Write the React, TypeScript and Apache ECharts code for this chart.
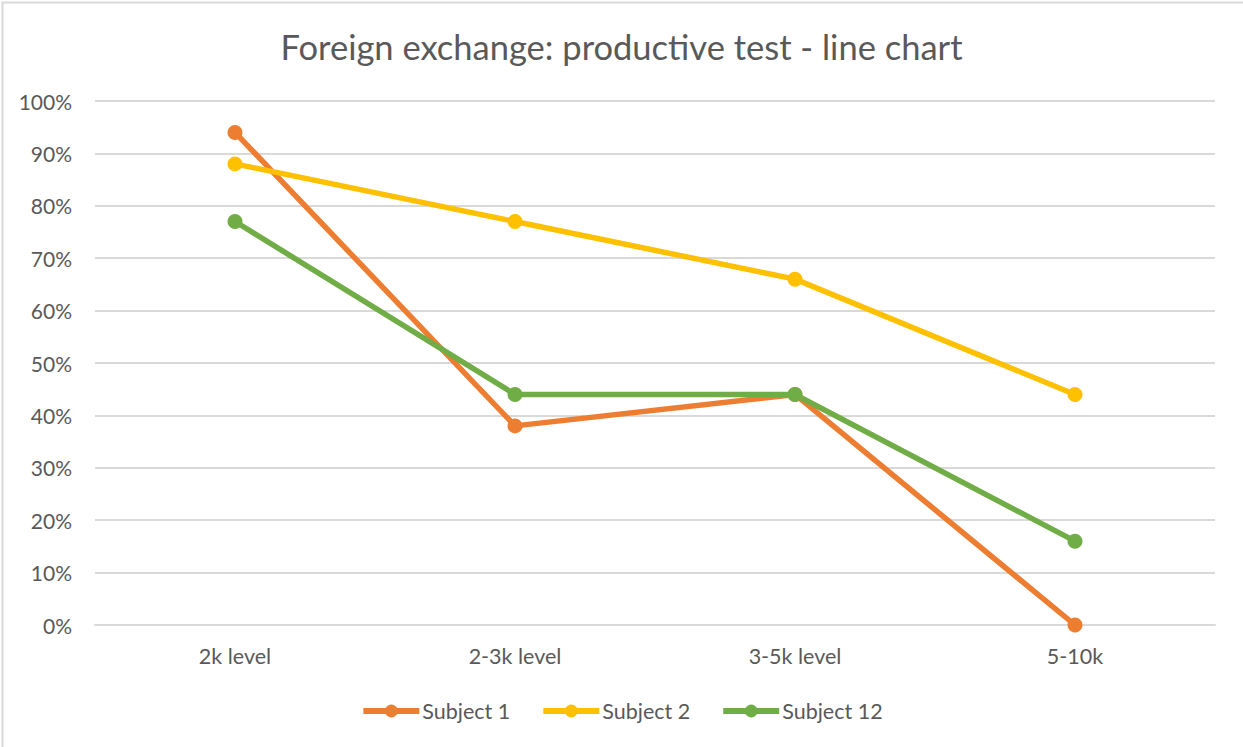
import React, { useEffect, useRef } from "react";
import * as echarts from "echarts";

const categories = ["2k level", "2-3k level", "3-5k level", "5-10k"];
const subject1 = [94, 38, 44, 0];
const subject2 = [88, 77, 66, 44];
const subject12 = [77, 44, 44, 16];
const seriesNames = ["Subject 1", "Subject 2", "Subject 12"];
const colors = ["#ED7D31", "#FFC000", "#70AD47"];

export default function App() {
  const ref = useRef<HTMLDivElement>(null);
  useEffect(() => {
    document.body.style.margin = "0";
    const chart = echarts.init(ref.current!, null, { renderer: "svg" });
    const font = "Lato, 'Noto Sans', sans-serif";
    const mk = (name: string, data: number[], color: string) => ({
      name,
      type: "line",
      data,
      symbol: "circle",
      symbolSize: 15,
      lineStyle: { width: 5.5, color },
      itemStyle: { color },
      emphasis: { disabled: true },
    });
    chart.setOption({
      animation: false,
      backgroundColor: "#ffffff",
      textStyle: { fontFamily: font },
      title: {
        text: "Foreign exchange: productive test - line chart",
        left: "center",
        top: 24,
        textStyle: { fontSize: 34.5, fontWeight: "normal", color: "#595959", fontFamily: font },
      },
      legend: {
        top: 695,
        left: "center",
        itemWidth: 56,
        itemHeight: 16,
        itemGap: 30,
        lineStyle: { width: 6 },
        textStyle: { fontSize: 21.5, color: "#595959", fontFamily: font, padding: [0, 0, 0, -2] },
        data: seriesNames,
      },
      graphic: [
        {
          type: "rect",
          shape: { x: 2.5, y: 2.5, width: 1300, height: 800 },
          style: { fill: "none", stroke: "#d9d9d9", lineWidth: 2 },
          silent: true,
        },
      ],
      grid: { left: 95, right: 28, top: 101, bottom: 122, containLabel: false },
      xAxis: {
        type: "category",
        data: categories,
        boundaryGap: true,
        axisLine: { show: true, lineStyle: { color: "#d9d9d9", width: 2 } },
        axisTick: { show: false },
        axisLabel: { fontSize: 21.5, color: "#595959", margin: 20, fontFamily: font },
      },
      yAxis: {
        type: "value",
        min: 0,
        max: 100,
        interval: 10,
        axisLine: { show: false },
        axisTick: { show: false },
        splitLine: { lineStyle: { color: "#d9d9d9", width: 2 } },
        axisLabel: { fontSize: 21, color: "#595959", margin: 23, formatter: "{value}%", fontFamily: font },
      },
      series: [
        mk(seriesNames[0], subject1, colors[0]),
        mk(seriesNames[1], subject2, colors[1]),
        mk(seriesNames[2], subject12, colors[2]),
      ],
    });
    return () => chart.dispose();
  }, []);
  return <div ref={ref} style={{ width: 1243, height: 747 }} />;
}
